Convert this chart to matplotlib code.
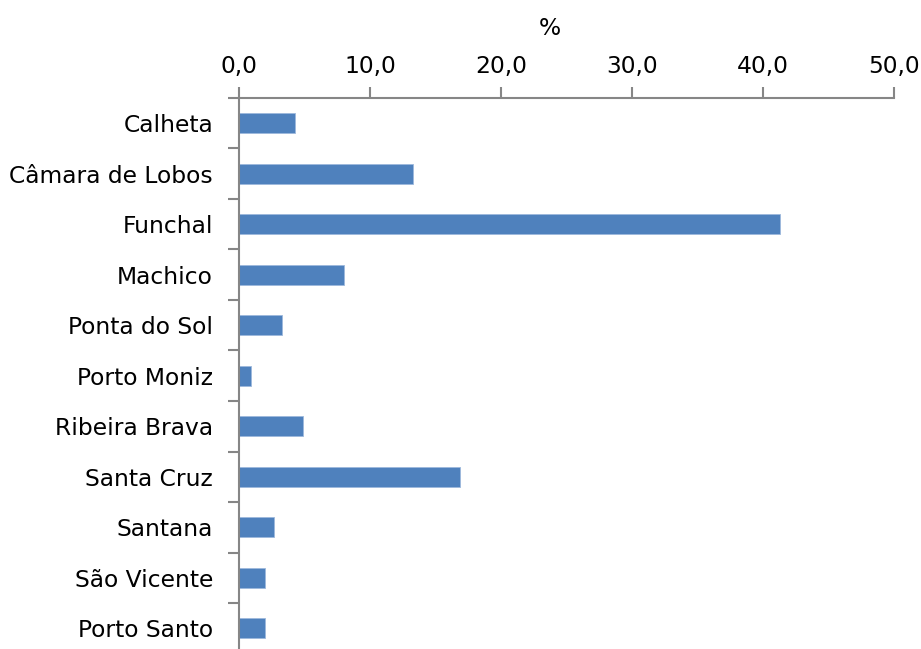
import matplotlib
matplotlib.use("Agg")
import matplotlib.pyplot as plt
import numpy as np

categories = ["Calheta", "Câmara de Lobos", "Funchal", "Machico", "Ponta do Sol",
              "Porto Moniz", "Ribeira Brava", "Santa Cruz", "Santana", "São Vicente",
              "Porto Santo"]
values = [4.3, 13.3, 41.3, 8.0, 3.3, 0.9, 4.9, 16.9, 2.7, 2.0, 2.0]
xticks = [0, 10, 20, 30, 40, 50]
xticklabels = ["0,0", "10,0", "20,0", "30,0", "40,0", "50,0"]

plt.rcParams['font.family'] = ['DejaVu Sans']
FS = 16.8
fig = plt.figure(figsize=(9.21, 6.49), dpi=100)
ax = fig.add_axes([239/921, 1 - 653.5/649, (894 - 239)/921, (653.5 - 98)/649])

n = len(categories)
pos = np.arange(n)
ax.barh(pos, values, height=0.4, color="#4F81BD", edgecolor="#9DB9DC", linewidth=0.6)
ax.set_ylim(n - 0.5, -0.5)
ax.set_xlim(0, 50)

gray = "#868686"
ax.xaxis.tick_top()
ax.xaxis.set_label_position("top")
ax.set_xticks(xticks)
ax.set_xticklabels(xticklabels, fontsize=FS)
ax.set_xlabel("%", fontsize=FS, labelpad=11)
ax.xaxis.set_label_coords((550 - 239) / 655, 1 + (98 - 40) / (653.5 - 98), transform=ax.transAxes)
ax.xaxis.label.set_va("bottom")
ax.tick_params(axis="x", direction="out", length=8, width=1.5, color=gray, pad=6.5)

ax.set_yticks(pos)
ax.set_yticklabels(categories, fontsize=FS)
ax.tick_params(axis="y", which="major", length=0, pad=18.7)
ax.set_yticks(np.arange(n + 1) - 0.5, minor=True)
ax.tick_params(axis="y", which="minor", direction="out", length=8, width=1.5, color=gray)

for s in ["right", "bottom"]:
    ax.spines[s].set_visible(False)
for s in ["left", "top"]:
    ax.spines[s].set_color(gray)
    ax.spines[s].set_linewidth(1.5)

fig.savefig("out.png", dpi=100)
